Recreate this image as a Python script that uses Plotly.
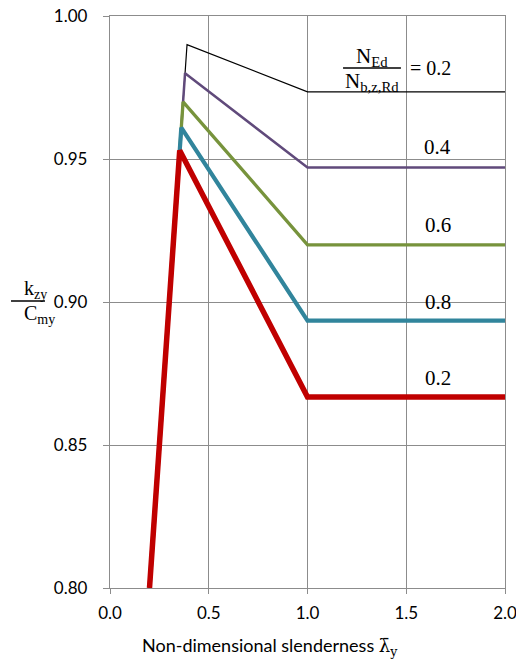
import plotly.graph_objects as go

# Interaction factor k_zy / C_my versus non-dimensional slenderness
x_02 = [0.20, 0.39, 1.0, 2.0]
y_02 = [0.80, 0.990, 0.9735, 0.9735]
x_04 = [0.20, 0.38, 1.0, 2.0]
y_04 = [0.80, 0.980, 0.947, 0.947]
x_06 = [0.20, 0.37, 1.0, 2.0]
y_06 = [0.80, 0.970, 0.920, 0.920]
x_08 = [0.20, 0.361, 1.0, 2.0]
y_08 = [0.80, 0.961, 0.8935, 0.8935]
x_10 = [0.20, 0.353, 1.0, 2.0]
y_10 = [0.80, 0.953, 0.8668, 0.8668]

value_labels = ["0.4", "0.6", "0.8", "0.2"]
label_x = [1.66, 1.66, 1.66, 1.66]
label_y = [0.9542, 0.9269, 0.9000, 0.8734]

x_ticks = [0.0, 0.5, 1.0, 1.5, 2.0]
x_tick_text = ["0.0", "0.5", "1.0", "1.5", "2.0"]
y_ticks = [0.80, 0.85, 0.90, 0.95, 1.00]
y_tick_text = ["0.80", "0.85", "0.90", "0.95", "1.00"]

series = [
    (x_02, y_02, "#000000", 1.2),
    (x_04, y_04, "#604A7B", 2.5),
    (x_06, y_06, "#77933C", 3.3),
    (x_08, y_08, "#31859C", 4.2),
    (x_10, y_10, "#C00000", 5.5),
]

fig = go.Figure()
for xs, ys, col, w in series:
    fig.add_trace(go.Scatter(x=xs, y=ys, mode="lines",
                             line=dict(color=col, width=w),
                             showlegend=False, hoverinfo="skip", cliponaxis=False))

SERIF = "Liberation Serif"
SANS = "Lato"
GRID = "#8c8c8c"

annotations = []
# value labels for each curve
for t, lx, ly in zip(value_labels, label_x, label_y):
    annotations.append(dict(x=lx, y=ly, xref="x", yref="y", text=t,
                            showarrow=False, font=dict(family=SERIF, size=21, color="#000")))

# N_Ed / N_b,z,Rd = 0.2 fraction
annotations += [
    dict(x=1.327, y=0.9858, xref="x", yref="y", text="N<sub>Ed</sub>",
         showarrow=False, font=dict(family=SERIF, size=21, color="#000")),
    dict(x=1.327, y=0.9768, xref="x", yref="y", text="N<sub>b,z,Rd</sub>",
         showarrow=False, font=dict(family=SERIF, size=21, color="#000")),
    dict(x=1.625, y=0.9818, xref="x", yref="y", text="= 0.2",
         showarrow=False, font=dict(family=SERIF, size=20, color="#000")),
]

# y-axis title as a fraction k_zy / C_my
annotations += [
    dict(x=-0.2228, y=0.522, xref="paper", yref="paper", text="k<sub>zy</sub>",
         showarrow=False, font=dict(family=SERIF, size=20, color="#000")),
    dict(x=-0.2228, y=0.478, xref="paper", yref="paper", text="C<sub>my</sub>",
         showarrow=False, font=dict(family=SERIF, size=20, color="#000")),
]

# x-axis title
annotations.append(dict(
    x=0.405, y=-0.1014, xref="paper", yref="paper", yanchor="middle",
    text="Non-dimensional slenderness <span style=\"font-family:'DejaVu Serif'\">λ̄<sub>y</sub></span>",
    showarrow=False, font=dict(family=SANS, size=18, color="#000")))

shapes = [
    dict(type="line", xref="x", yref="y", x0=1.18, x1=1.473, y0=0.9818, y1=0.9818,
         line=dict(color="#000", width=1.6)),
    dict(type="line", xref="paper", yref="paper", x0=-0.2506, x1=-0.1646,
         y0=0.5017, y1=0.5017, line=dict(color="#000", width=1.6)),
]

fig.update_layout(
    width=516, height=662,
    margin=dict(l=110, r=11, t=16, b=74, autoexpand=False),
    paper_bgcolor="white", plot_bgcolor="white",
    annotations=annotations, shapes=shapes,
    xaxis=dict(range=[0, 2], tickvals=x_ticks, ticktext=x_tick_text,
               showgrid=True, gridcolor=GRID, gridwidth=1.3,
               showline=True, linecolor=GRID, linewidth=1.3, mirror=True,
               ticks="outside", ticklen=5, tickcolor=GRID, tickwidth=1.3,
               zeroline=False, automargin=False, ticklabelstandoff=4,
               ticklabeloverflow="allow",
               tickfont=dict(family=SANS, size=17, color="#000")),
    yaxis=dict(range=[0.80, 1.00], tickvals=y_ticks, ticktext=y_tick_text,
               showgrid=True, gridcolor=GRID, gridwidth=1.3,
               showline=True, linecolor=GRID, linewidth=1.3, mirror=True,
               ticks="outside", ticklen=6, tickcolor=GRID, tickwidth=1.3,
               zeroline=False, automargin=False, ticklabelstandoff=12,
               ticklabeloverflow="allow",
               tickfont=dict(family=SANS, size=17, color="#000")),
)

fig.write_html("out.html")
